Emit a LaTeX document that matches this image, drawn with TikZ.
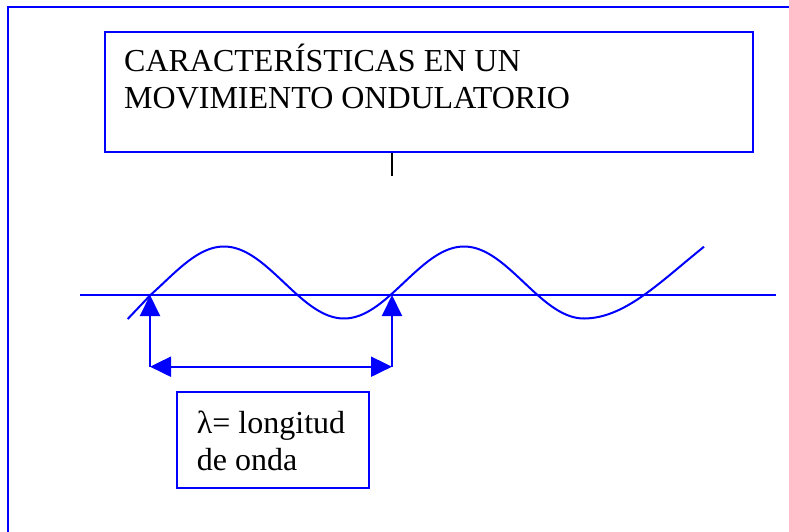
\documentclass[tikz,border=0pt]{standalone}
\usepackage{fontspec}
\setmainfont{Liberation Serif}
\usetikzlibrary{arrows.meta}
\definecolor{wblue}{RGB}{0,0,255}
\begin{document}
\begin{tikzpicture}[x=1pt,y=-1pt,
 blueline/.style={draw=wblue, line width=2pt},
 boxnode/.style={draw=wblue, line width=2pt, anchor=north west, inner sep=0pt},
 txt/.style={anchor=base west, align=left, inner sep=0pt, font=\fontsize{32}{37}\selectfont},
 tiparrow/.style={-{Triangle[length=21pt,width=20pt]}},
 dblarrow/.style={{Triangle[length=21pt,width=20pt]}-{Triangle[length=21pt,width=20pt]}},
]
\useasboundingbox (0,0) rectangle (789,531);
\clip (0,0) rectangle (789,531);
% outer frame
\draw[blueline] (8,7) rectangle (800,545);
% title box
\node[boxnode, minimum width=648pt, minimum height=120pt] (titlebox) at (104,31) {};
\node[txt] (titletext) at (124,108) {CARACTERÍSTICAS EN UN\\MOVIMIENTO ONDULATORIO};
\coordinate (tick) at (392,176);
\draw[line width=2pt, black] (tick |- titlebox.south) -- (tick);
% axis
\coordinate (axl) at (80,295);
\coordinate (axr) at (776,295);
\draw[blueline] (axl) -- (axr);
% wave
\draw[blueline] (127.7,319) -- plot[domain=150.5:584, samples=150] (\x, {282.5-36*cos((\x-224)*1.5)})
  .. controls (625,318.3) and (660,282) .. (704,246.7);
% wavelength arrows
\coordinate (c1) at (150,295);
\coordinate (c2) at (392,295);
\coordinate (b1) at (150,366.7);
\coordinate (b2) at (392,366.7);
\draw[blueline, tiparrow] (b1) -- (c1);
\draw[blueline, tiparrow] (b2) -- (c2);
\draw[blueline, dblarrow] (b1) -- (b2);
% lambda box
\node[boxnode, minimum width=192.6pt, minimum height=96.3pt] (lambox) at (175.7,391) {};
\node[txt] (lamtext) at (196.7,470) {λ= longitud\\de onda};
\end{tikzpicture}
\end{document}
